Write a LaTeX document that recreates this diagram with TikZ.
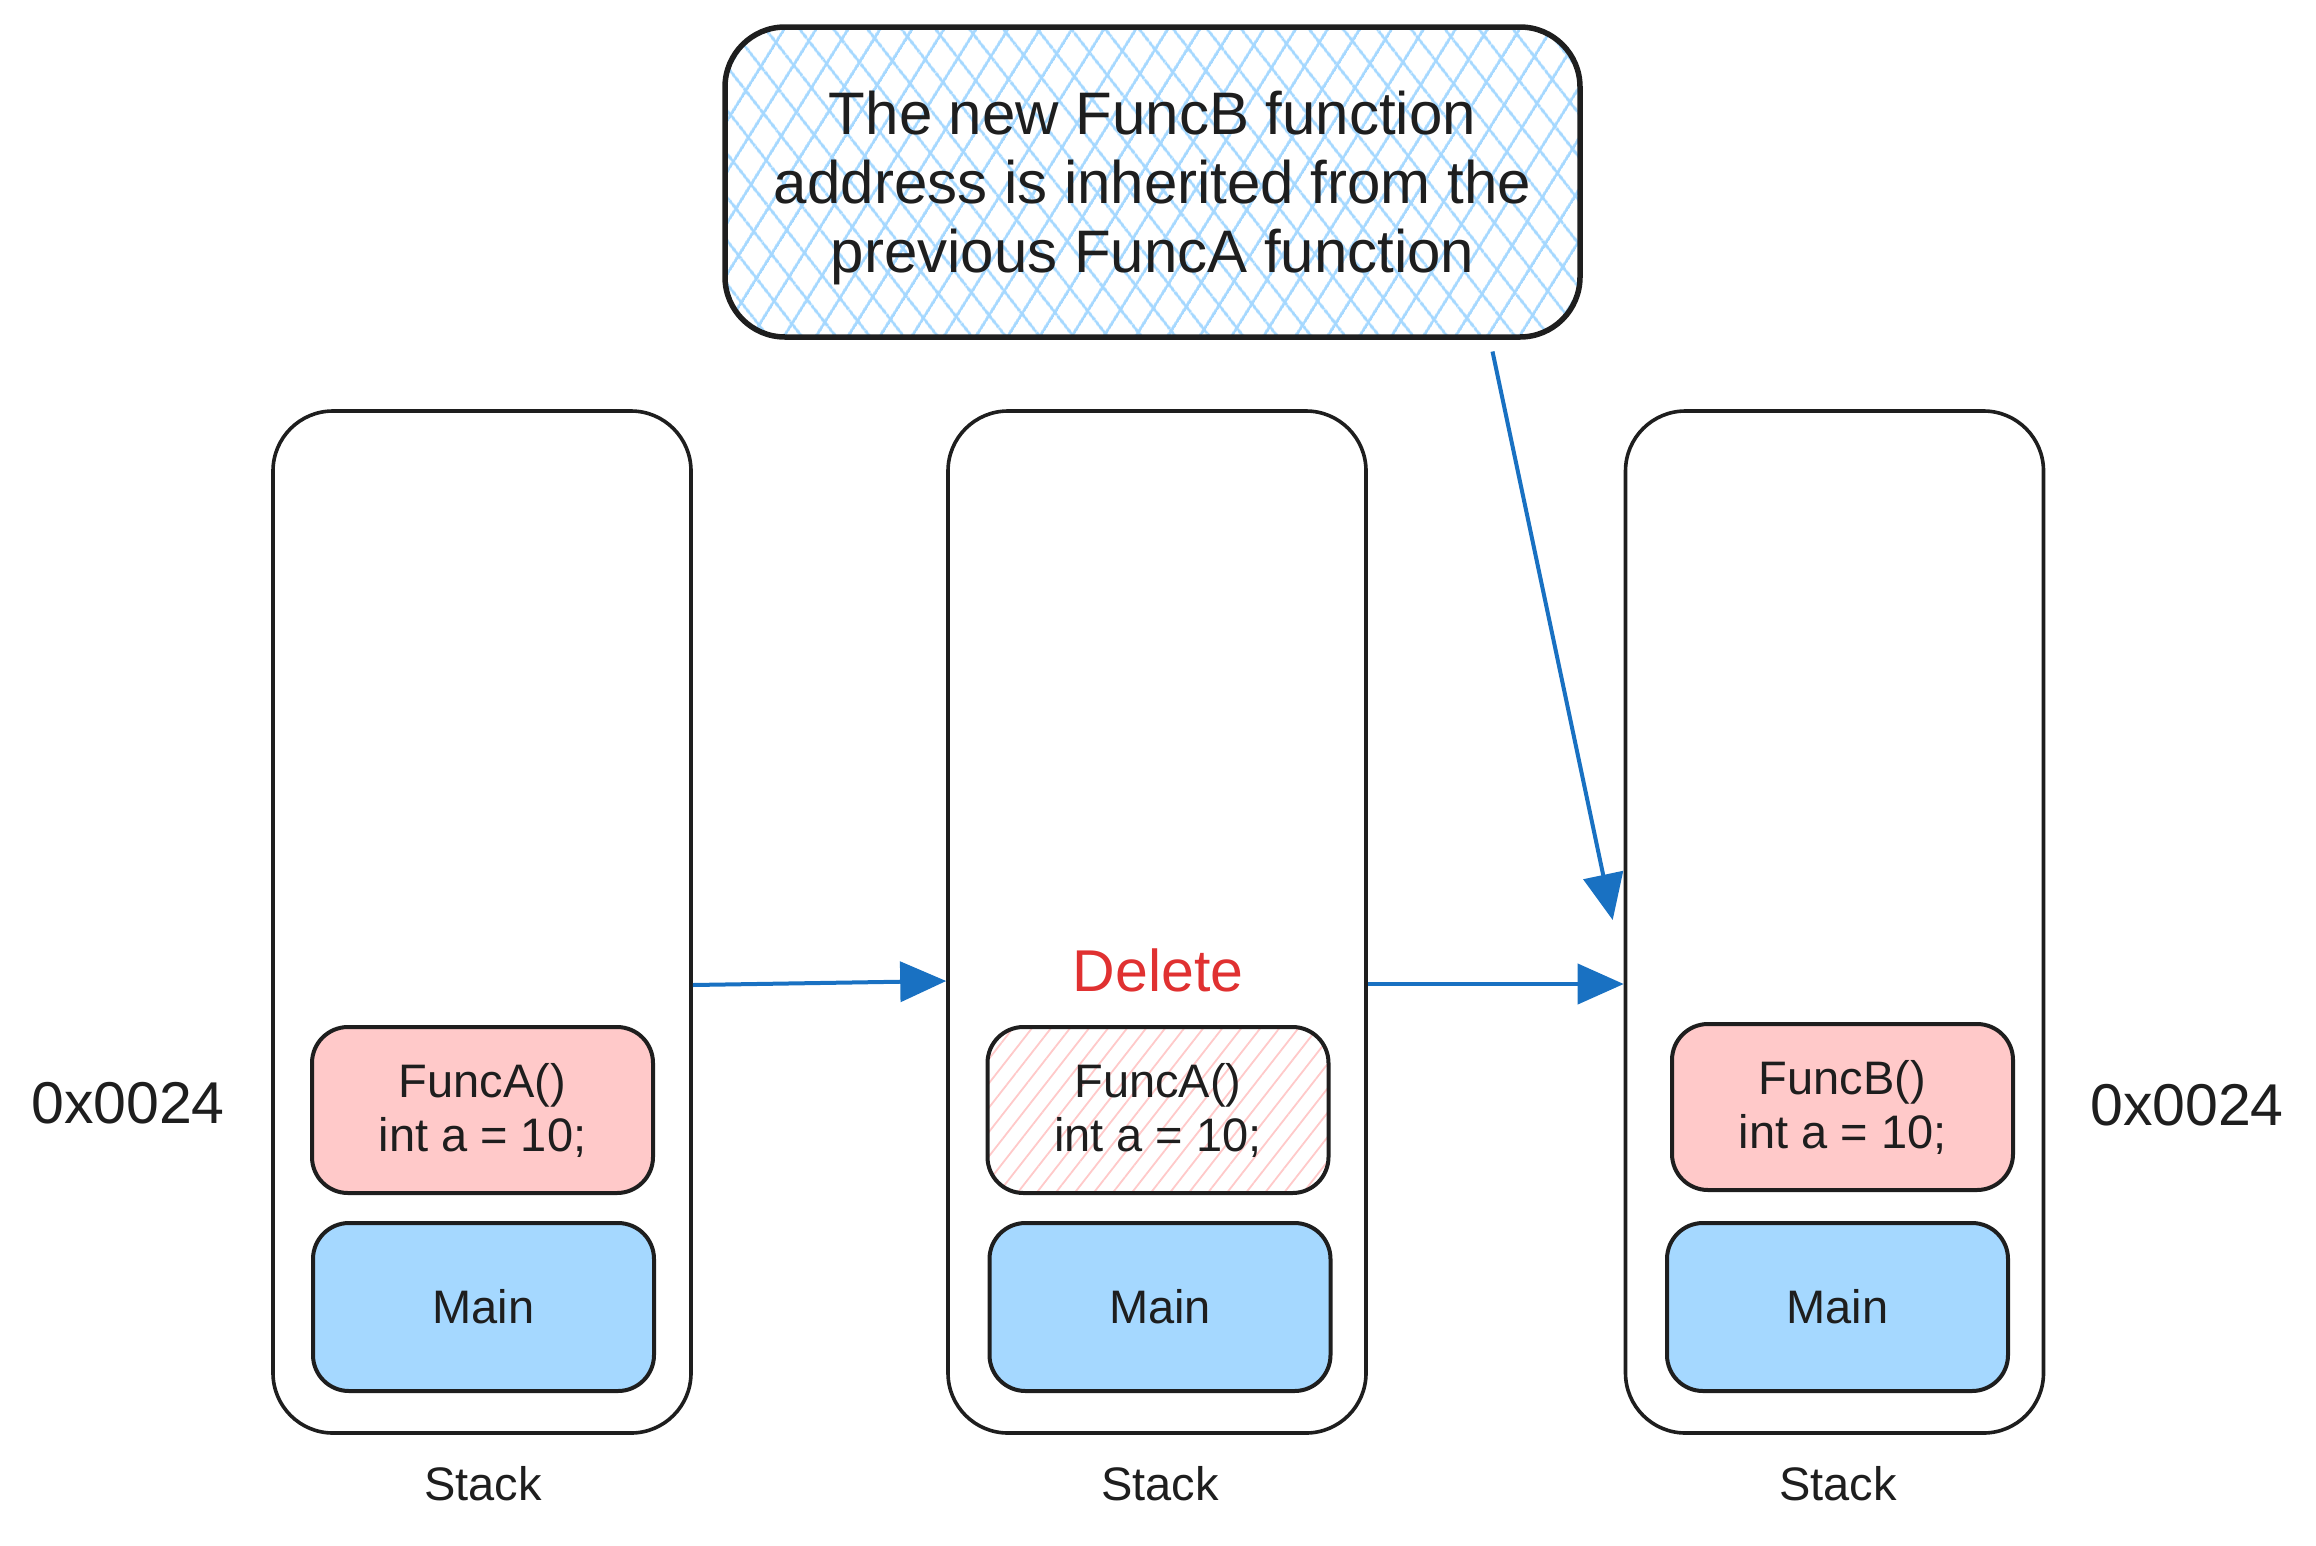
\documentclass[tikz,border=0pt]{standalone}
\usepackage{fontspec}
\setmainfont{Liberation Sans}
\usetikzlibrary{arrows.meta,patterns.meta}
\definecolor{ink}{HTML}{1E1E1E}
\definecolor{pinkf}{HTML}{FFC9C9}
\definecolor{bluef}{HTML}{A5D8FF}
\definecolor{arrowc}{HTML}{1971C2}
\definecolor{redt}{HTML}{E03131}
\begin{document}
\begin{tikzpicture}[x=1pt,y=-1pt,
  stackbox/.style={draw=ink, line width=3.6pt, rounded corners=60pt, minimum width=418pt, minimum height=1022pt, inner sep=0pt},
  funcbox/.style={draw=ink, line width=4pt, rounded corners=36pt, minimum width=341pt, minimum height=166pt, inner sep=0pt, fill=pinkf, align=center, font=\fontsize{47}{54}\selectfont, text=ink},
  mainbox/.style={funcbox, fill=bluef, minimum height=168pt},
  hatchbox/.style={funcbox, fill=none, pattern={Lines[angle=52,distance=15pt,line width=1.8pt]}, pattern color=pinkf},
  calloutbox/.style={draw=ink, line width=5.5pt, rounded corners=60pt, minimum width=855pt, minimum height=310pt, inner sep=0pt, align=center, font=\fontsize{60}{69}\selectfont, text=ink,
    preaction={pattern={Lines[angle=58,distance=27pt,line width=3pt]}, pattern color=bluef},
    pattern={Lines[angle=-52,distance=27pt,line width=3pt]}, pattern color=bluef},
  lbl/.style={font=\fontsize{47}{54}\selectfont, text=ink},
  addr/.style={font=\fontsize{59}{68}\selectfont, text=ink},
  arr/.style={draw=arrowc, line width=4pt, -{Triangle[length=46pt,width=40pt]}}
]
\useasboundingbox (0,0) rectangle (2316,1545);

% stacks
\node[stackbox] (s1) at (482,922) {};
\node[stackbox] (s2) at (1157,922) {};
\node[stackbox] (s3) at (1834.5,922) {};

% frames
\node[funcbox] (fa1) at (482.5,1110) {FuncA()\\int a = 10;};
\node[mainbox] (m1) at (483.5,1307) {Main};
\node[hatchbox] (fa2) at (1158,1110) {FuncA()\\int a = 10;};
\node[mainbox] (m2) at (1160,1307) {Main};
\node[funcbox] (fb3) at (1842.5,1107) {FuncB()\\int a = 10;};
\node[mainbox] (m3) at (1837.5,1307) {Main};

% labels
\node[lbl] (l1) at (483,1484) {Stack};
\node[lbl] (l2) at (1160,1484) {Stack};
\node[lbl] (l3) at (1838,1484) {Stack};
\node[addr] (a1) at (128,1103) {0x0024};
\node[addr] (a2) at (2187,1105) {0x0024};
\node[addr, text=redt] (del) at (1158,970) {Delete};

% callout
\node[calloutbox] (c) at (1152.5,182) {};
\node[font=\fontsize{60}{69}\selectfont, text=ink, align=center] (ct) at (1152.5,188) {The new FuncB function\\address is inherited from the\\previous FuncA function};

% arrows
\draw[arr] ([yshift=-63pt]s1.east) -- ([yshift=-59pt]s2.west);
\draw[arr] ([yshift=-62pt]s2.east) -- ([yshift=-62pt]s3.west);
\draw[arr] ([xshift=340pt,yshift=-13pt]c.south) -- ([xshift=-11pt,yshift=2pt]s3.west);
\end{tikzpicture}
\end{document}
